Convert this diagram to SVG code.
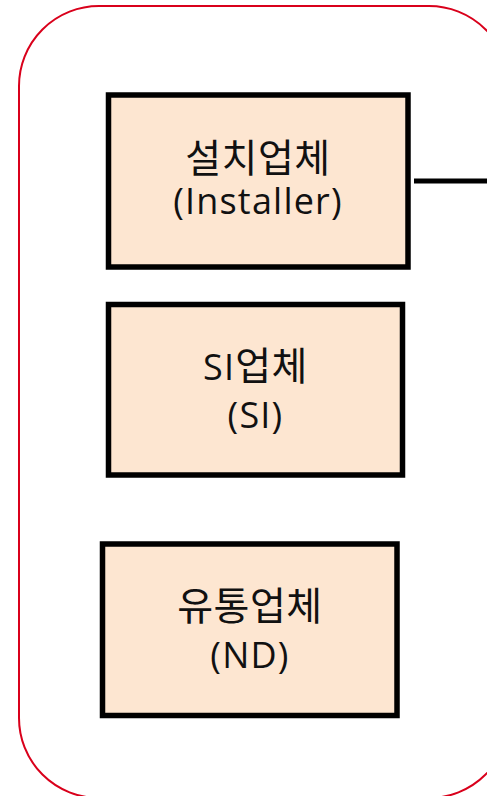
<svg xmlns="http://www.w3.org/2000/svg" width="487" height="796" viewBox="0 0 487 796">
<style>
.box{fill:#FDE6D1;stroke:#000;stroke-width:5.5}
.t{font-family:"Open Sans","Noto Sans CJK KR",sans-serif;font-size:36px;letter-spacing:1.2px;fill:#111;text-anchor:middle}
.k{font-family:"Noto Sans CJK KR","Open Sans",sans-serif;font-size:39px;letter-spacing:0.5px}
</style>
<rect x="19" y="6" width="490" height="792" rx="80" ry="80" fill="#fff" stroke="#D9001B" stroke-width="2"/>
<g id="connectors">
<line x1="414" y1="181" x2="487" y2="181" stroke="#000" stroke-width="5"/>
</g>
<g id="installer">
<rect class="box" x="108.5" y="95" width="299.5" height="172"/>
<text class="t k" x="258" y="172">설치업체</text>
<text class="t" x="258" y="214">(Installer)</text>
</g>
<g id="si">
<rect class="box" x="108.5" y="304.5" width="294" height="170.5"/>
<text class="t" x="255.5" y="380">SI<tspan class="k">업체</tspan></text>
<text class="t" x="255.5" y="428">(SI)</text>
</g>
<g id="nd">
<rect class="box" x="102.5" y="544" width="294.5" height="171.5"/>
<text class="t k" x="250" y="620">유통업체</text>
<text class="t" x="250" y="668">(ND)</text>
</g>
</svg>
